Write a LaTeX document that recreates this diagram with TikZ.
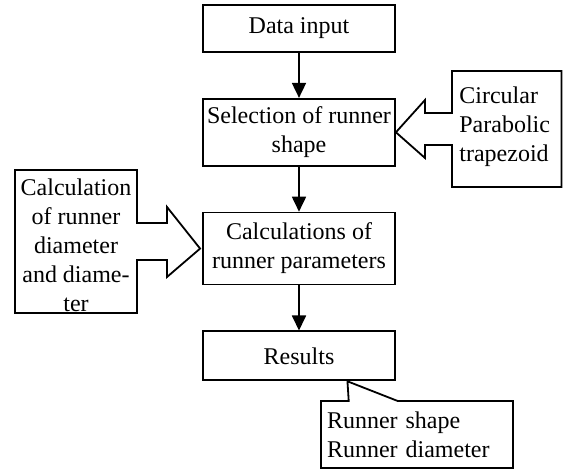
\documentclass[12pt,tikz,border=0pt]{standalone}
\usepackage{fontspec}
\setmainfont{Liberation Serif}
\usepackage{tikz}
\usetikzlibrary{arrows.meta,positioning,calc,shapes.callouts}

\begin{document}
\begin{tikzpicture}[x=0.5pt, y=-0.5pt, node distance=22.5pt,
                   box/.style={draw, line width=0.9pt, minimum width=96pt,
                               inner sep=0pt, align=center},
                   flow/.style={line width=0.9pt, -{Triangle[width=7pt,length=7.5pt]}},
                   callline/.style={draw, line width=0.9pt, line join=miter},
                   calltext/.style={inner sep=0pt}]
          \useasboundingbox (0,0) rectangle (563,470);
          \node[box, minimum height=23.5pt] (input) at (299,28.5) {Data input};
          \node[box, minimum height=33.5pt, below=of input] (sel) {Selection of runner\\shape};
          \node[box, minimum height=36pt, below=of sel] (calc) {Calculations of\\runner parameters};
          \node[box, minimum height=24.5pt, below=of calc] (res) {Results};
          \draw[flow] (input) -- (sel);
          \draw[flow] (sel) -- (calc);
          \draw[flow] (calc) -- (res);

          \node[calltext, align=left, anchor=north west] (shapelist) at (459,86.5)
            {Circular\\Parabolic\\trapezoid};
          \draw[callline] (sel.east) -- (425,100) -- (425,113) -- (452,113) -- (452,71)
            -- (561.5,71) -- (561.5,187) -- (452,187) -- (452,145) -- (425,145)
            -- (425,158) -- cycle;

          \node[calltext, align=center, anchor=north] (diamcalc) at (76,178)
            {Calculation\\of runner\\diameter\\and diame-\\ter};
          \draw[callline] ([xshift=-1pt]calc.west) -- (167,207) -- (167,223) -- (137,223)
            -- (137,170) -- (15,170) -- (15,313) -- (137,313) -- (137,260)
            -- (167,260) -- (167,277) -- cycle;

          \coordinate (restip) at ($(res.south)!0.5!(res.south east)$);
          \node[rectangle callout, draw, line width=0.9pt, minimum width=96pt,
                minimum height=33.5pt, inner xsep=3pt, text width=90pt, align=left,
                callout absolute pointer=(restip), callout pointer width=24.5pt]
            (outlist) at (417,434.5) {Runner shape\\Runner diameter};
        \end{tikzpicture}
\end{document}
